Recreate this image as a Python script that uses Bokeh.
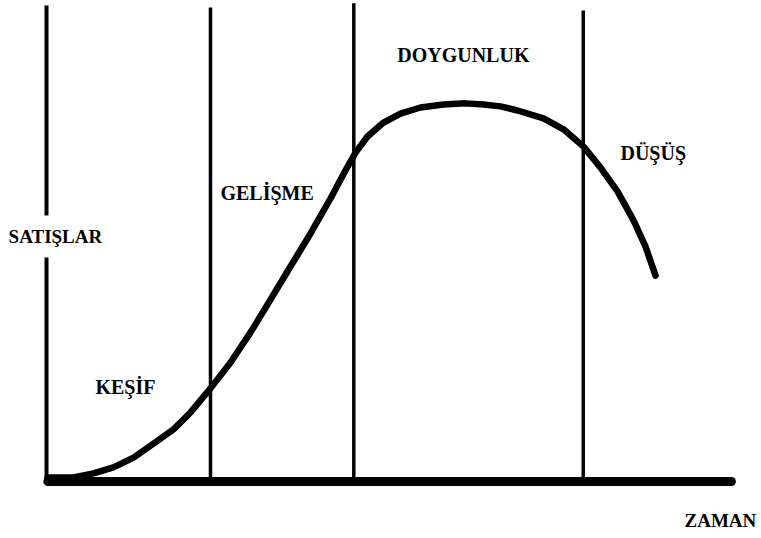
from bokeh.plotting import figure
from bokeh.models import ColumnDataSource, Range1d
from bokeh.core.properties import value
from bokeh.embed import file_html
from bokeh.resources import INLINE

# --- data (time units 0..100 along the axis, sales units ~100 at the peak) ---
curve_time = [0.15, 3.92, 6.82, 9.72, 12.63, 15.53, 18.43, 20.90, 23.80, 26.71,
              29.61, 32.51, 35.41, 38.32, 41.22, 43.40, 44.85, 46.59, 48.91, 51.38,
              54.28, 57.62, 60.81, 63.43, 65.89, 68.36, 72.13, 75.04, 77.94, 80.41,
              82.87, 85.20, 86.94, 88.39]
curve_sales = [0.8, 0.8, 1.9, 3.5, 6.1, 9.8, 13.6, 18.1, 24.5, 31.4,
               39.4, 48.1, 56.9, 65.7, 75.0, 82.5, 87.2, 91.5, 95.2, 97.6,
               99.2, 100.0, 100.3, 100.0, 99.5, 98.4, 96.3, 93.4, 88.8, 83.2,
               76.9, 69.2, 62.2, 54.5]

stage_bounds = [23.8, 44.6, 77.9]          # vertical stage separators
stage_tops = [125.8, 126.9, 125.0]

stage_labels = ["KEŞİF", "GELİŞME", "DOYGUNLUK", "DÜŞÜŞ"]
axis_labels = ["SATIŞLAR", "ZAMAN"]

# label anchor positions (layout)
stage_label_x = [7.1, 25.25, 50.9, 83.3]
stage_label_y = [24.8, 76.4, 113.1, 87.0]
axis_label_x = [-5.5, 92.6]
axis_label_y = [64.9, -10.6]

p = figure(width=761, height=538, output_backend="svg", toolbar_location=None,
           x_range=Range1d(-6.676, 103.77), y_range=Range1d(-15.43, 127.66),
           min_border=0, min_border_left=0, min_border_right=0,
           min_border_top=0, min_border_bottom=0)
p.axis.visible = False
p.grid.visible = False
p.outline_line_color = None
p.background_fill_color = "white"
p.border_fill_color = "white"

# left (sales) axis, interrupted by its label
p.segment(x0=[0, 0], y0=[0, 70.5], x1=[0, 0], y1=[59.3, 126.3],
          line_color="black", line_width=4)

# stage separators
p.segment(x0=stage_bounds, y0=[0] * 3, x1=stage_bounds, y1=stage_tops,
          line_color="black", line_width=3.5)

# sales curve
src = ColumnDataSource(dict(t=curve_time, s=curve_sales))
p.line("t", "s", source=src, line_color="black", line_width=6.5,
       line_join="round", line_cap="round")

# time axis
p.segment(x0=[0.2], y0=[-0.27], x1=[99.4], y1=[-0.27], line_color="black",
          line_width=9, line_cap="round")

font = value("Liberation Serif")
p.text(x=stage_label_x, y=stage_label_y, text=stage_labels, text_font=font,
       text_font_style="bold", text_font_size="20px", text_color="black",
       text_baseline="alphabetic", text_align="left")
p.text(x=axis_label_x, y=axis_label_y, text=axis_labels, text_font=font,
       text_font_style="bold", text_font_size="19px", text_color="black",
       text_baseline="alphabetic", text_align="left")

open("out.html", "w").write(file_html(p, INLINE))
